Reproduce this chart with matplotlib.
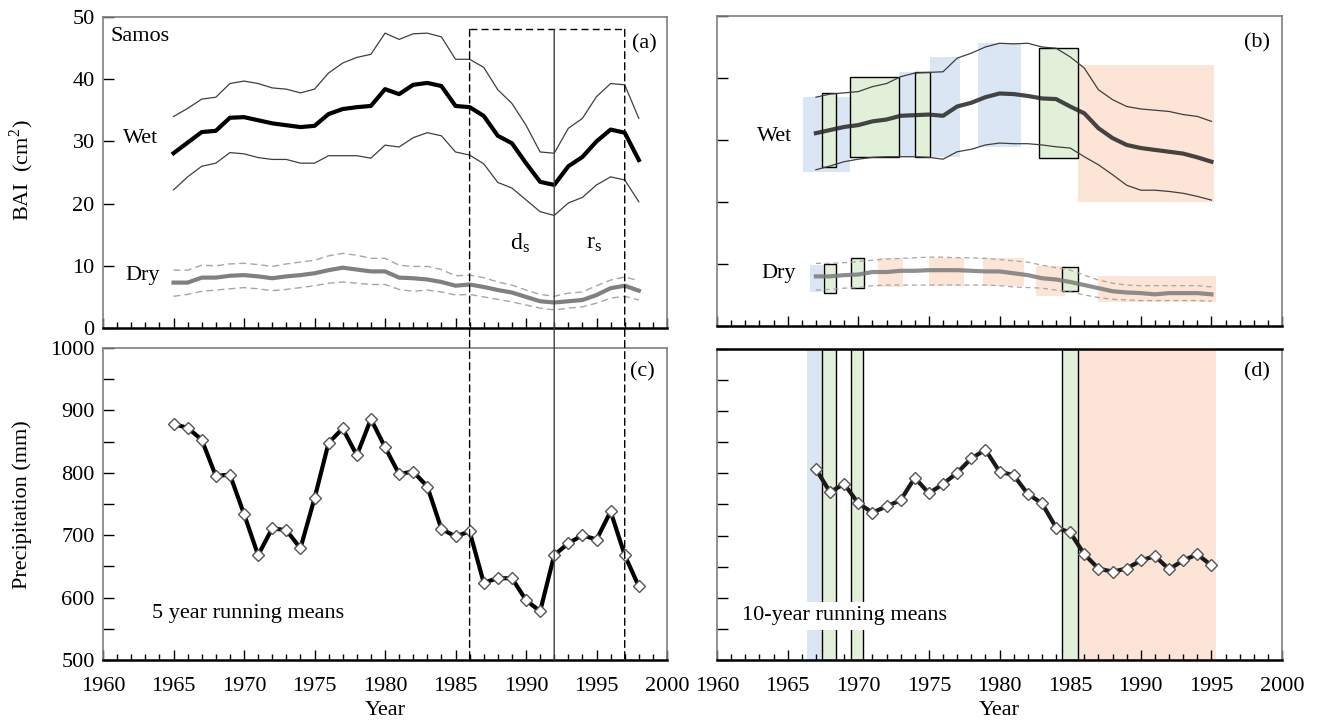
import numpy as np
import matplotlib
matplotlib.use("Agg")
import matplotlib.pyplot as plt
from matplotlib.patches import Rectangle, ConnectionPatch
from matplotlib.ticker import MultipleLocator

plt.rcParams['font.family'] = ['Liberation Serif', 'DejaVu Serif']
plt.rcParams['mathtext.fontset'] = 'stix'

# ---- (a) BAI, annual, 1965-1998 ----
years_a = np.arange(1965, 1999)
wet_mean_a = [28.1, 29.8, 31.5, 31.7, 33.8, 33.9, 33.4, 32.9, 32.6, 32.3, 32.5, 34.4,
              35.2, 35.5, 35.7, 38.4, 37.6, 39.1, 39.4, 38.9, 35.7, 35.5, 34.1, 30.9,
              29.7, 26.5, 23.5, 23.0, 26.0, 27.5, 30.0, 31.9, 31.4, 27.0]
wet_hi_a = [34.0, 35.3, 36.8, 37.1, 39.3, 39.7, 39.3, 38.6, 38.4, 37.8, 38.4, 41.0,
            42.6, 43.5, 44.0, 47.4, 46.4, 47.3, 47.4, 46.8, 43.2, 43.2, 41.9, 38.3,
            36.1, 32.6, 28.3, 28.1, 32.1, 33.7, 37.2, 39.3, 39.1, 33.7]
wet_lo_a = [22.2, 24.3, 26.0, 26.5, 28.2, 28.0, 27.4, 27.1, 27.1, 26.5, 26.5, 27.7,
            27.7, 27.7, 27.3, 29.4, 29.1, 30.6, 31.4, 30.9, 28.3, 27.8, 26.4, 23.4,
            22.5, 20.6, 18.7, 18.1, 20.1, 21.0, 23.0, 24.3, 23.8, 20.3]
dry_mean_a = [7.3, 7.3, 8.1, 8.1, 8.4, 8.5, 8.3, 8.0, 8.3, 8.5, 8.8, 9.3,
              9.7, 9.4, 9.1, 9.1, 8.1, 8.0, 7.8, 7.4, 6.8, 7.0, 6.6, 6.1,
              5.7, 5.0, 4.3, 4.1, 4.3, 4.5, 5.3, 6.4, 6.8, 6.0]
dry_hi_a = [9.3, 9.3, 10.1, 10.0, 10.3, 10.4, 10.2, 9.9, 10.3, 10.6, 10.9, 11.6,
            12.0, 11.7, 11.2, 11.2, 10.1, 9.9, 9.9, 9.4, 8.4, 8.5, 8.1, 7.4,
            6.9, 6.1, 5.4, 5.1, 5.6, 5.8, 6.8, 7.7, 8.2, 7.6]
dry_lo_a = [5.1, 5.4, 5.9, 6.1, 6.3, 6.5, 6.3, 6.0, 6.2, 6.5, 6.8, 7.2,
            7.4, 7.2, 7.0, 7.0, 6.2, 5.9, 6.1, 5.8, 5.3, 5.4, 5.0, 4.6,
            4.2, 3.7, 3.2, 2.9, 3.2, 3.4, 4.0, 4.8, 5.1, 4.5]

# ---- (b) BAI, 10-year running means, 1967-1995 ----
years_b = np.arange(1967, 1996)
wet_mean_b = [31.1, 31.6, 32.1, 32.4, 33.0, 33.3, 33.9, 34.0, 34.1, 33.9, 35.4, 36.0,
              36.9, 37.5, 37.4, 37.1, 36.7, 36.6, 35.4, 34.3, 31.9, 30.3, 29.2, 28.7,
              28.4, 28.1, 27.8, 27.2, 26.5]
wet_hi_b = [36.9, 37.4, 37.6, 37.8, 38.6, 39.1, 40.2, 40.8, 40.9, 41.0, 43.2, 44.0,
            45.0, 45.6, 45.5, 45.6, 45.0, 44.8, 43.4, 41.6, 38.1, 36.5, 35.4, 35.0,
            34.8, 34.6, 34.1, 33.8, 33.0]
wet_lo_b = [25.2, 25.8, 26.5, 26.9, 27.2, 27.3, 27.3, 27.3, 27.2, 26.9, 28.1, 28.5,
            29.2, 29.5, 29.4, 29.4, 29.2, 28.9, 28.7, 27.3, 26.0, 24.4, 22.7, 21.9,
            21.9, 21.7, 21.4, 20.9, 20.3]
dry_mean_b = [8.0, 8.0, 8.2, 8.3, 8.7, 8.7, 8.9, 8.9, 9.0, 9.0, 9.0, 8.9,
              8.8, 8.8, 8.5, 8.2, 7.7, 7.5, 7.1, 6.6, 6.1, 5.6, 5.4, 5.3,
              5.1, 5.3, 5.3, 5.3, 5.1]
dry_hi_b = [10.1, 10.1, 10.2, 10.4, 10.6, 10.8, 10.9, 11.0, 11.1, 11.1, 11.0, 11.0,
            10.9, 10.7, 10.5, 10.3, 9.8, 9.4, 9.0, 8.2, 7.4, 6.9, 6.6, 6.5,
            6.5, 6.5, 6.5, 6.5, 6.3]
dry_lo_b = [5.8, 5.9, 6.1, 6.2, 6.5, 6.6, 6.6, 6.6, 6.6, 6.6, 6.6, 6.6,
            6.6, 6.5, 6.3, 6.2, 6.1, 5.8, 5.5, 5.0, 4.6, 4.3, 4.2, 4.1,
            4.1, 4.1, 4.1, 4.1, 4.0]

# ---- (c) precipitation, 5-year running means, 1965-1998 ----
prec_c = [878, 872, 853, 795, 797, 734, 668, 711, 708, 679, 759, 848,
          871, 828, 886, 841, 798, 802, 778, 710, 698, 706, 624, 631,
          631, 596, 578, 668, 687, 700, 693, 738, 668, 618]

# ---- (d) precipitation, 10-year running means, 1967-1995 ----
prec_d = [807, 770, 783, 752, 737, 747, 757, 793, 768, 783, 801, 824,
          838, 803, 797, 767, 752, 713, 705, 670, 647, 642, 647, 660,
          667, 646, 660, 670, 652]

# periods marked in (a)/(c)
drought_start, drought_end, recovery_end = 1986, 1992, 1997

# highlighted periods in (b): (start, end, low, high)
wet_blue = [(1966.1, 1969.4, 24.9, 37.0), (1972.9, 1975.1, 27.3, 41.0),
            (1975.1, 1977.2, 27.3, 43.4), (1978.45, 1981.5, 28.9, 45.6)]
wet_green = [(1967.4, 1968.4, 25.6, 37.5), (1969.4, 1972.9, 27.2, 40.2),
             (1974.05, 1975.05, 27.2, 40.9), (1982.8, 1985.55, 27.1, 44.9)]
wet_orange = [(1985.55, 1995.15, 20.0, 42.1)]
dry_blue = [(1966.55, 1967.5, 5.4, 9.8)]
dry_green = [(1967.55, 1968.4, 5.3, 9.95), (1969.5, 1970.4, 6.2, 10.9),
             (1984.4, 1985.55, 5.6, 9.5)]
dry_orange = [(1971.4, 1973.2, 6.3, 10.9), (1975.0, 1977.45, 6.4, 10.9),
              (1978.8, 1981.7, 6.4, 10.9), (1982.6, 1984.6, 4.8, 9.6),
              (1987.0, 1995.3, 3.9, 8.0)]
# highlighted periods in (d)
d_blue = [(1966.4, 1967.4)]
d_green = [(1967.4, 1968.4), (1969.45, 1970.36), (1984.4, 1985.55)]
d_orange = [(1985.55, 1995.3)]

BLUE = '#dae6f3'
GREEN = '#e2efd9'
ORANGE = '#fce4d6'
FS = 16

fig = plt.figure(figsize=(13.19, 7.26), dpi=100)
ax_a = fig.add_axes([0.0781, 0.5482, 0.4276, 0.4284])
ax_b = fig.add_axes([0.5436, 0.5510, 0.4284, 0.4270])
ax_c = fig.add_axes([0.0781, 0.0909, 0.4276, 0.4298])
ax_d = fig.add_axes([0.5436, 0.0909, 0.4284, 0.4284])


def style(ax, top_panel):
    ax.set_xlim(1960, 2000)
    ax.xaxis.set_major_locator(MultipleLocator(5))
    ax.xaxis.set_minor_locator(MultipleLocator(1))
    ax.tick_params(axis='x', which='major', direction='in', length=7, width=1,
                   labelsize=FS, pad=12, labelbottom=not top_panel)
    ax.tick_params(axis='x', which='minor', direction='in', length=4, width=1)
    ax.tick_params(axis='y', which='both', direction='in', length=8, width=1,
                   labelsize=FS, pad=6)
    for s in ['left', 'top', 'right']:
        ax.spines[s].set_color('#7f7f7f')
        ax.spines[s].set_linewidth(1.2)
    ax.spines['bottom'].set_color('black')
    ax.spines['bottom'].set_linewidth(1.8)


for ax in (ax_a, ax_b):
    style(ax, True)
    ax.set_ylim(0, 50)
    ax.yaxis.set_major_locator(MultipleLocator(10))
for ax in (ax_c, ax_d):
    style(ax, False)
    ax.set_ylim(500, 1000)
    ax.yaxis.set_major_locator(MultipleLocator(100))
    ax.yaxis.set_minor_locator(MultipleLocator(50))
    ax.set_xlabel('Year', fontsize=FS, labelpad=4)
ax_b.tick_params(axis='y', labelleft=False)
ax_d.tick_params(axis='y', labelleft=False)
ax_d.spines['top'].set_color('black')
ax_d.spines['top'].set_linewidth(1.8)

# ---- (a) ----
ax_a.plot(years_a, wet_hi_a, color='#3f3f3f', lw=0.9)
ax_a.plot(years_a, wet_lo_a, color='#3f3f3f', lw=0.9)
ax_a.plot(years_a, wet_mean_a, color='black', lw=3)
ax_a.plot(years_a, dry_hi_a, color='#a6a6a6', lw=1, ls=(0, (5, 3)))
ax_a.plot(years_a, dry_lo_a, color='#a6a6a6', lw=1, ls=(0, (5, 3)))
ax_a.plot(years_a, dry_mean_a, color='#808080', lw=3)
ax_a.text(0.013, 0.936, 'Samos', transform=ax_a.transAxes, fontsize=FS, va='center')
ax_a.text(0.982, 0.913, '(a)', transform=ax_a.transAxes, fontsize=FS, va='center', ha='right')
ax_a.text(1963.9, 30.5, 'Wet', fontsize=FS, va='center', ha='right')
ax_a.text(1964.0, 8.5, 'Dry', fontsize=FS, va='center', ha='right')
ax_a.text(1989.6, 13.6, 'd$_\\mathregular{s}$', fontsize=FS + 1, va='center', ha='center')
ax_a.text(1994.8, 13.6, 'r$_\\mathregular{s}$', fontsize=FS + 1, va='center', ha='center')

# drought / recovery frame spanning (a) and (c)
top_y = 48
ax_a.plot([drought_start, recovery_end], [top_y, top_y], color='black', lw=1, ls=(0, (5, 3)))
for x, ls, col in [(drought_start, (0, (5, 3)), 'black'),
                   (recovery_end, (0, (5, 3)), 'black'),
                   (drought_end, '-', '#404040')]:
    con = ConnectionPatch(xyA=(x, top_y), coordsA=ax_a.transData,
                          xyB=(x, 500), coordsB=ax_c.transData,
                          color=col, lw=1, ls=ls, zorder=5)
    fig.add_artist(con)

# ---- (b) ----
for spans, col, edge in [(wet_blue, BLUE, None), (dry_blue, BLUE, None),
                         (wet_orange, ORANGE, None), (dry_orange, ORANGE, None),
                         (wet_green, GREEN, 'black'), (dry_green, GREEN, 'black')]:
    for x0, x1, lo, hi in spans:
        ax_b.add_patch(Rectangle((x0, lo), x1 - x0, hi - lo, facecolor=col,
                                 edgecolor=edge if edge else 'none', lw=1,
                                 zorder=1 if edge is None else 2))
ax_b.plot(years_b, wet_hi_b, color='#3f3f3f', lw=0.9, zorder=3)
ax_b.plot(years_b, wet_lo_b, color='#3f3f3f', lw=0.9, zorder=3)
ax_b.plot(years_b, wet_mean_b, color='#262626', lw=3, alpha=0.85, zorder=3)
ax_b.plot(years_b, dry_hi_b, color='#a6a6a6', lw=0.9, ls=(0, (4, 3)), zorder=3)
ax_b.plot(years_b, dry_lo_b, color='#a6a6a6', lw=0.9, ls=(0, (4, 3)), zorder=3)
ax_b.plot(years_b, dry_mean_b, color='#7a7a7a', lw=3, alpha=0.85, zorder=3)
ax_b.text(1965.3, 30.6, 'Wet', fontsize=FS, va='center', ha='right')
ax_b.text(1965.6, 8.4, 'Dry', fontsize=FS, va='center', ha='right')
ax_b.text(0.979, 0.913, '(b)', transform=ax_b.transAxes, fontsize=FS, va='center', ha='right')

# ---- (c) ----
ax_c.plot(years_a, prec_c, color='black', lw=3, marker='D', ms=6.5,
          mfc='white', mec='#555555', mew=1, zorder=6)
ax_c.text(1963.45, 575, '5 year running means', fontsize=FS, va='center', ha='left')
ax_c.text(0.979, 0.924, '(c)', transform=ax_c.transAxes, fontsize=FS, va='center', ha='right')

# ---- (d) ----
for x0, x1 in d_blue:
    ax_d.axvspan(x0, x1, facecolor=BLUE, edgecolor='none', zorder=1)
for x0, x1 in d_orange:
    ax_d.axvspan(x0, x1, facecolor=ORANGE, edgecolor='none', zorder=1)
for x0, x1 in d_green:
    ax_d.axvspan(x0, x1, facecolor=GREEN, edgecolor='black', lw=1, zorder=2)
ax_d.plot(years_b, prec_d, color='#1a1a1a', lw=3, marker='D', ms=6.5,
          mfc='white', mec='#555555', mew=1, zorder=4)
ax_d.text(1961.8, 571, '10-year running means', fontsize=FS, va='center', ha='left',
          zorder=3, bbox=dict(facecolor='white', edgecolor='none', pad=3))
ax_d.text(0.979, 0.927, '(d)', transform=ax_d.transAxes, fontsize=FS, va='center', ha='right')

fig.text(22 / 1319, 1 - 170 / 726, 'BAI  (cm$^\\mathregular{2}$)', rotation=90,
         fontsize=FS, va='center', ha='center')
fig.text(22 / 1319, 1 - 505 / 726, 'Precipitation (mm)', rotation=90,
         fontsize=FS, va='center', ha='center')

fig.savefig('out.png', dpi=100)
